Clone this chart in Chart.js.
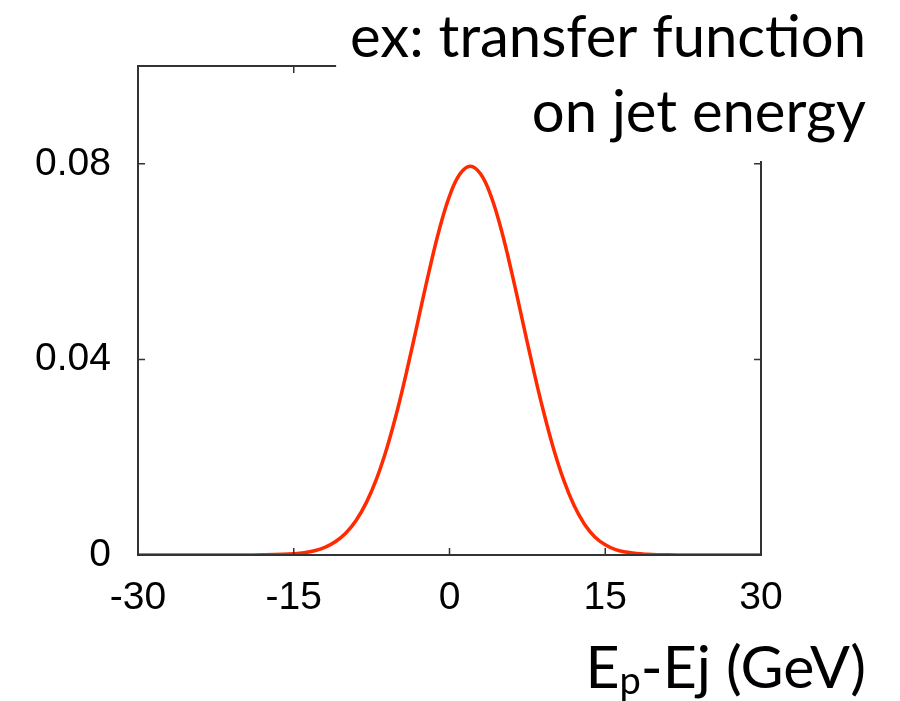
<!DOCTYPE html>
<html>
<head>
<meta charset="utf-8">
<script src="https://cdn.jsdelivr.net/npm/chart.js@4.4.1/dist/chart.umd.min.js"></script>
<style>
  html, body { margin: 0; padding: 0; background: #fff; }
  #wrap { width: 900px; height: 701px; }
</style>
</head>
<body>
<div id="wrap"><canvas id="chart_tf"></canvas></div>
<script>
// E_p - E_j (GeV) and the transfer function value
const energyDiff = [-30, -25, -20, -18, -16, -15, -14, -13, -12, -11, -10, -9, -8, -7, -6, -5, -4, -3, -2, -1,
  0, 1, 2, 3, 4, 5, 6, 7, 8, 9, 10, 11, 12, 13, 14, 15, 16, 17, 18, 19, 20, 22, 25, 30];
const tfValue = [0, 0, 0.00001, 0.00005, 0.00014, 0.00025, 0.00047, 0.00088, 0.00158, 0.00271, 0.00446, 0.00707, 0.01076, 0.01573, 0.0221, 0.0298, 0.0387, 0.0482, 0.0577, 0.0664,
  0.0734, 0.0779, 0.0795, 0.0779, 0.0734, 0.0664, 0.0577, 0.0482, 0.0387, 0.0298, 0.0219, 0.0153, 0.0101, 0.0063, 0.0037, 0.0021, 0.0011, 0.0006, 0.0003, 0.00015, 0.00007, 0.00001, 0, 0];

const xTicks = [-30, -15, 0, 15, 30];
const yTicks = [0, 0.04, 0.08];
const yTickLabels = ["0", "0.04", "0.08"];
const titleLines = ["ex: transfer function", "on jet energy"];

const axisColor = "#333333";
const titleFont = "58px Lato, 'Open Sans', sans-serif";

// frame with inward ticks, title box, axis label
const framePlugin = {
  id: "frame",
  afterDatasetsDraw(chart) {
    const ctx = chart.ctx;
    const a = chart.chartArea;
    const xs = chart.scales.x, ys = chart.scales.y;
    ctx.save();
    ctx.strokeStyle = axisColor;
    ctx.lineWidth = 2;
    ctx.strokeRect(a.left, a.top, a.right - a.left, a.bottom - a.top);
    ctx.lineWidth = 1.5;
    ctx.beginPath();
    xTicks.forEach((t) => {
      const px = xs.getPixelForValue(t);
      ctx.moveTo(px, a.bottom); ctx.lineTo(px, a.bottom - 7);
      ctx.moveTo(px, a.top); ctx.lineTo(px, a.top + 7);
    });
    yTicks.forEach((t) => {
      const py = ys.getPixelForValue(t);
      ctx.moveTo(a.left, py); ctx.lineTo(a.left + 7, py);
      ctx.moveTo(a.right, py); ctx.lineTo(a.right - 7, py);
    });
    ctx.stroke();

    // title, with a white box that hides the frame behind it
    ctx.font = titleFont;
    const w1 = ctx.measureText(titleLines[0]).width;
    ctx.fillStyle = "#fff";
    ctx.fillRect(866 - w1 - 14, 0, 900, 161);
    ctx.fillStyle = "#000";
    ctx.textAlign = "right";
    ctx.textBaseline = "alphabetic";
    ctx.fillText(titleLines[0], 866, 57);
    ctx.fillText(titleLines[1], 866, 132);

    // x axis label: E_p-Ej (GeV)
    const bigFont = "59px Lato, 'Open Sans', sans-serif";
    const subFont = "38px Lato, 'Open Sans', sans-serif";
    ctx.textAlign = "left";
    ctx.font = bigFont;
    const wE = ctx.measureText("E").width;
    const wRest = ctx.measureText("-Ej (GeV)").width;
    ctx.font = subFont;
    const wP = ctx.measureText("p").width;
    let x0 = 866 - wE - wP - wRest;
    const base = 688;
    ctx.font = bigFont;
    ctx.fillText("E", x0, base);
    ctx.font = subFont;
    ctx.fillText("p", x0 + wE, base + 6);
    ctx.font = bigFont;
    ctx.fillText("-Ej (GeV)", x0 + wE + wP, base);
    ctx.restore();
  },
};

const ctxTf = document.getElementById("chart_tf").getContext("2d");
const myChartTf = new Chart(ctxTf, {
  type: "line",
  data: {
    datasets: [
      {
        data: energyDiff.map((x, i) => ({ x: x, y: tfValue[i] })),
        borderColor: "#ff2a00",
        borderWidth: 3.5,
        pointRadius: 0,
        tension: 0.4,
        fill: false,
      },
    ],
  },
  options: {
    animation: false,
    responsive: true,
    maintainAspectRatio: false,
    layout: {
      padding: { top: 66, right: 139, left: 0, bottom: 0 },
    },
    plugins: {
      legend: { display: false },
      tooltip: { enabled: false },
    },
    scales: {
      x: {
        type: "linear",
        min: -30,
        max: 30,
        afterBuildTicks: (scale) => {
          scale.ticks = xTicks.map((v) => ({ value: v }));
        },
        afterFit: (scale) => {
          scale.height = 146;
        },
        grid: { display: false },
        border: { display: false },
        ticks: {
          color: "#000",
          padding: 12,
          maxRotation: 0,
          font: { family: "'Liberation Sans', Arial, sans-serif", size: 39 },
          callback: (v) => String(v),
        },
      },
      y: {
        type: "linear",
        min: 0,
        max: 0.1,
        afterBuildTicks: (scale) => {
          scale.ticks = yTicks.map((v) => ({ value: v }));
        },
        afterFit: (scale) => {
          scale.width = 138;
        },
        grid: { display: false },
        border: { display: false },
        ticks: {
          color: "#000",
          padding: 19,
          font: { family: "'Liberation Sans', Arial, sans-serif", size: 39 },
          callback: (v) => yTickLabels[yTicks.indexOf(v)] ?? "",
        },
      },
    },
  },
  plugins: [framePlugin],
});
</script>
</body>
</html>
